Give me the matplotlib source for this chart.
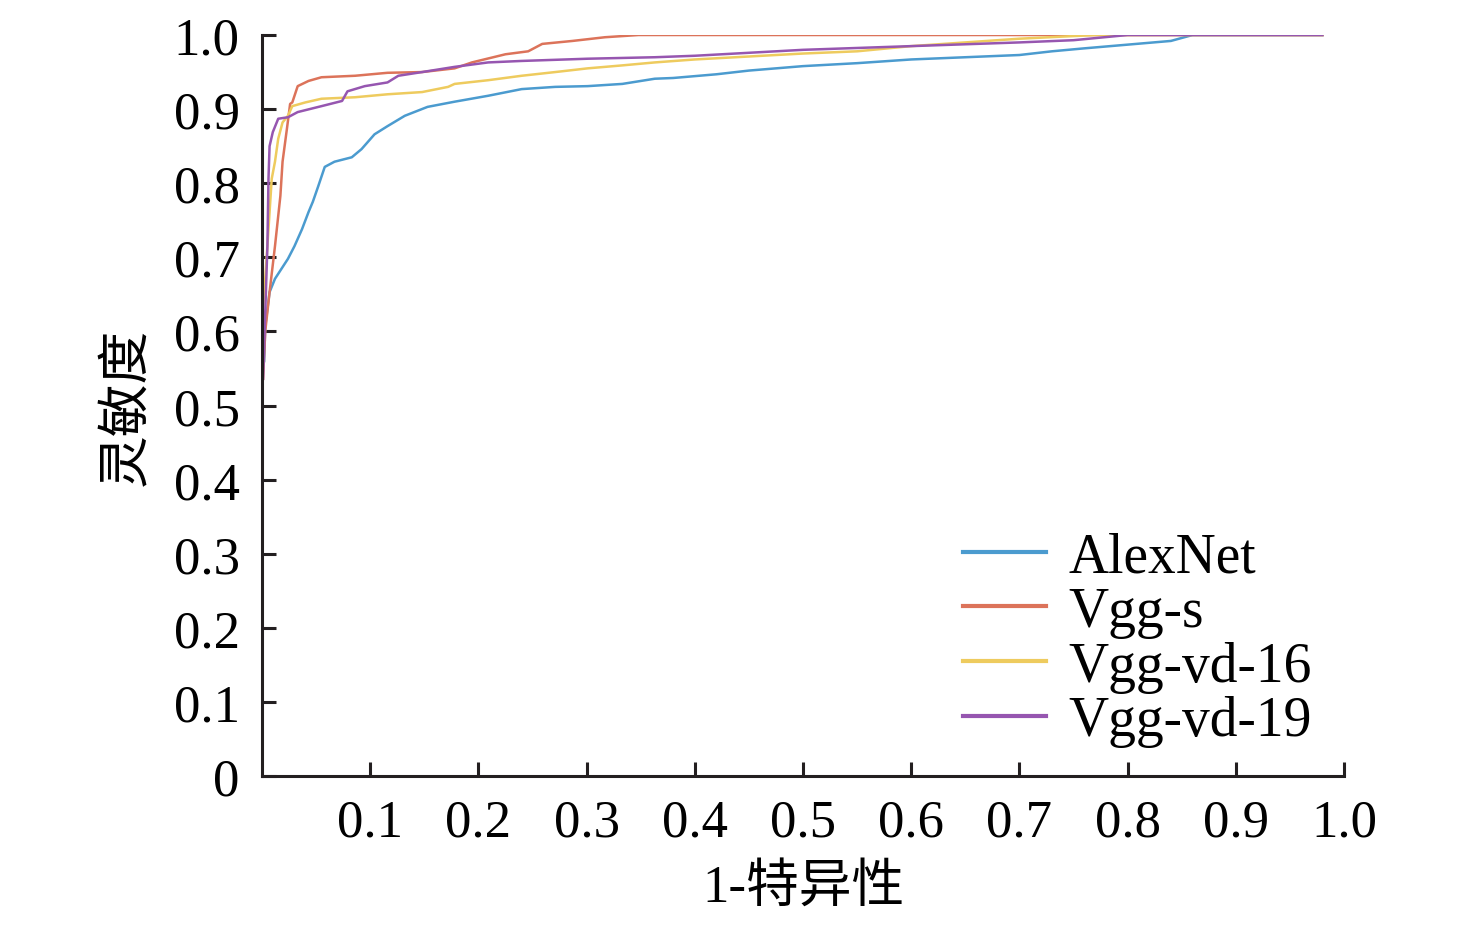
import numpy as np
import matplotlib
matplotlib.use('Agg')
import matplotlib.pyplot as plt
from matplotlib.ticker import FuncFormatter

plt.rcParams['font.family'] = ['Liberation Serif', 'Noto Sans CJK SC']

# ROC points (1-specificity, sensitivity)
alex_x = [0.002, 0.003, 0.007, 0.012, 0.024, 0.030, 0.037, 0.043, 0.047, 0.052, 0.058, 0.067,
          0.083, 0.092, 0.104, 0.116, 0.132, 0.153, 0.178, 0.209, 0.240, 0.271, 0.301, 0.333,
          0.363, 0.38, 0.42, 0.45, 0.50, 0.55, 0.60, 0.65, 0.70, 0.73, 0.76, 0.80, 0.84, 0.86, 0.98]
alex_y = [0.56, 0.607, 0.653, 0.671, 0.698, 0.715, 0.738, 0.761, 0.775, 0.796, 0.822, 0.829,
          0.835, 0.846, 0.866, 0.877, 0.891, 0.903, 0.910, 0.918, 0.927, 0.930, 0.931, 0.934,
          0.941, 0.942, 0.947, 0.952, 0.958, 0.962, 0.967, 0.970, 0.973, 0.978, 0.982, 0.987, 0.992, 1.0, 1.0]

vggs_x = [0.001, 0.003, 0.007, 0.012, 0.017, 0.019, 0.023, 0.026, 0.028, 0.033, 0.043, 0.055,
          0.086, 0.116, 0.148, 0.178, 0.194, 0.225, 0.246, 0.259, 0.287, 0.317, 0.348, 0.98]
vggs_y = [0.536, 0.60, 0.653, 0.715, 0.783, 0.829, 0.873, 0.907, 0.909, 0.931, 0.938, 0.943,
          0.945, 0.949, 0.950, 0.955, 0.963, 0.974, 0.978, 0.988, 0.992, 0.997, 1.0, 1.0]

vd16_x = [0.001, 0.003, 0.006, 0.009, 0.012, 0.015, 0.019, 0.024, 0.028, 0.040, 0.055, 0.086,
          0.116, 0.148, 0.172, 0.178, 0.209, 0.240, 0.271, 0.301, 0.333, 0.363, 0.40, 0.50,
          0.55, 0.60, 0.65, 0.70, 0.77, 0.98]
vd16_y = [0.634, 0.671, 0.738, 0.806, 0.829, 0.860, 0.882, 0.891, 0.904, 0.909, 0.914, 0.916,
          0.920, 0.923, 0.930, 0.934, 0.939, 0.945, 0.950, 0.955, 0.959, 0.963, 0.967, 0.975,
          0.978, 0.985, 0.990, 0.995, 1.0, 1.0]

vd19_x = [0.001, 0.003, 0.005, 0.006, 0.007, 0.010, 0.015, 0.024, 0.033, 0.055, 0.074, 0.079,
          0.095, 0.116, 0.126, 0.148, 0.178, 0.209, 0.240, 0.301, 0.363, 0.40, 0.50, 0.60,
          0.70, 0.75, 0.80, 0.98]
vd19_y = [0.536, 0.626, 0.715, 0.806, 0.850, 0.869, 0.887, 0.889, 0.896, 0.904, 0.911, 0.924,
          0.931, 0.936, 0.945, 0.950, 0.957, 0.963, 0.965, 0.968, 0.970, 0.972, 0.980, 0.985,
          0.990, 0.993, 1.0, 1.0]

names = ['AlexNet', 'Vgg-s', 'Vgg-vd-16', 'Vgg-vd-19']
colors = ['#4b9bcf', '#dc735a', '#eecb5e', '#9656b0']
curves = [(alex_x, alex_y), (vggs_x, vggs_y), (vd16_x, vd16_y), (vd19_x, vd19_y)]

fig = plt.figure(figsize=(14.76, 9.28), dpi=100)
ax = fig.add_axes([0.1775, 0.1627, 0.7331, 0.7985])

for (cx, cy), nm, c in zip(curves, names, colors):
    ax.plot(cx, cy, color=c, lw=1.8, label=nm)

ax.set_xlim(0, 1.0)
ax.set_ylim(0, 1.0)
ax.set_xticks(np.arange(1, 11) / 10)
ax.set_yticks(np.arange(0, 11) / 10)
ax.xaxis.set_major_formatter(FuncFormatter(lambda v, p: '%.1f' % v))
ax.yaxis.set_major_formatter(FuncFormatter(lambda v, p: '0' if v == 0 else '%.1f' % v))

for s in ['top', 'right']:
    ax.spines[s].set_visible(False)
for s in ['left', 'bottom']:
    ax.spines[s].set_linewidth(2.2)
    ax.spines[s].set_color('#231f20')
ax.tick_params(direction='in', length=10, width=2.2, labelsize=38, color='#231f20')
ax.tick_params(axis='x', pad=16)
ax.tick_params(axis='y', pad=16)

ax.set_xlabel('1-特异性', fontsize=38, labelpad=12)
ax.set_ylabel('灵敏度', fontsize=38, labelpad=16)

leg = ax.legend(loc='upper left', bbox_to_anchor=(0.622, 0.368), frameon=False, fontsize=40,
                handlelength=1.5, handletextpad=0.4, labelspacing=0.05, borderpad=0)
for h in leg.legend_handles:
    h.set_linewidth(3)

fig.savefig('out.png', dpi=100)
